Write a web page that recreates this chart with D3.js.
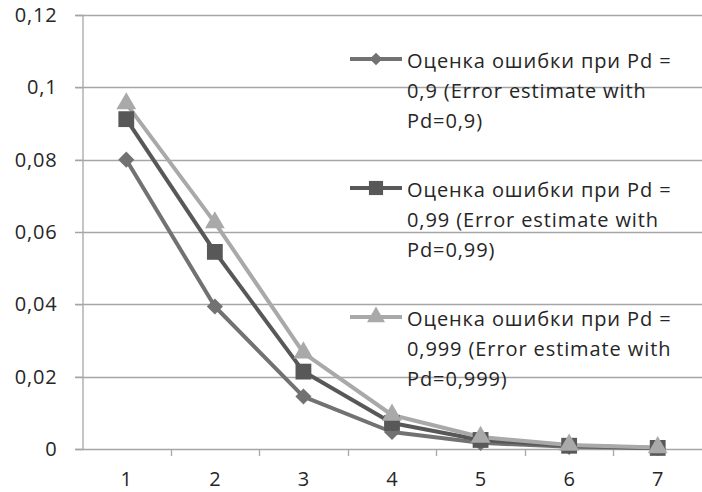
<!DOCTYPE html>
<html><head><meta charset="utf-8">
<script src="https://cdn.jsdelivr.net/npm/d3@7"></script>
<style>html,body{margin:0;padding:0;background:#fff;}svg{display:block;}</style>
</head><body>
<svg id="c" width="702" height="492"></svg>
<script>
const categories = ["1","2","3","4","5","6","7"];
const yTicks = [0, 0.02, 0.04, 0.06, 0.08, 0.1, 0.12];
const yTickLabels = ["0","0,02","0,04","0,06","0,08","0,1","0,12"];
const seriesNames = [
  ["Оценка ошибки при Pd =", "0,9 (Error estimate with", "Pd=0,9)"],
  ["Оценка ошибки при Pd =", "0,99 (Error estimate with", "Pd=0,99)"],
  ["Оценка ошибки при Pd =", "0,999 (Error estimate with", "Pd=0,999)"]
];
const valuesPd09 = [0.080, 0.0394, 0.0145, 0.0047, 0.0017, 0.0006, 0.0002];
const valuesPd099 = [0.0912, 0.0545, 0.0214, 0.0072, 0.0025, 0.0009, 0.0003];
const valuesPd0999 = [0.0955, 0.0626, 0.0266, 0.0094, 0.0033, 0.0011, 0.0004];

const series = [
  {values: valuesPd09, color: "#727272", marker: "diamond"},
  {values: valuesPd099, color: "#585858", marker: "square"},
  {values: valuesPd0999, color: "#a9a9a9", marker: "triangle"}
];

const svg = d3.select("#c");
const font = "'Open Sans', 'Noto Sans', sans-serif";
const mLeft = 82, mRight = 702, mTop = 15, mBottom = 449;
const x = d3.scaleBand().domain(categories).range([mLeft, mRight]);
const y = d3.scaleLinear().domain([0, 0.12]).range([mBottom, mTop]);

// gridlines
svg.append("g").selectAll("line").data(yTicks).join("line")
  .attr("x1", mLeft - 7).attr("x2", mRight)
  .attr("y1", d => Math.round(y(d)) + 0.5).attr("y2", d => Math.round(y(d)) + 0.5)
  .attr("stroke", "#a6a6a6").attr("stroke-width", 1.3);

// y axis
const yAxis = svg.append("g").attr("transform", `translate(${mLeft + 0.5},0)`)
  .call(d3.axisLeft(y).tickValues(yTicks).tickFormat((d, i) => yTickLabels[i]).tickSize(7).tickPadding(18));
yAxis.select(".domain").attr("stroke", "#a6a6a6").attr("stroke-width", 1.3);
yAxis.selectAll(".tick line").attr("stroke", "#a6a6a6");
yAxis.selectAll("text").attr("font-family", font).attr("font-size", 20)
  .attr("letter-spacing", 0.8).attr("dy", "0.32em").attr("fill", "#262626");

// x axis
const xAxis = svg.append("g").attr("transform", `translate(0,${Math.round(y(0)) + 0.5})`)
  .call(d3.axisBottom(x).tickSize(0).tickPadding(22));
xAxis.select(".domain").remove();
xAxis.selectAll("text").attr("font-family", font).attr("font-size", 20).attr("fill", "#262626");
// boundary ticks
const bounds = categories.slice(1).map(c => x(c));
svg.append("g").selectAll("line").data(bounds).join("line")
  .attr("x1", d => Math.round(d) + 0.5).attr("x2", d => Math.round(d) + 0.5)
  .attr("y1", Math.round(y(0))).attr("y2", Math.round(y(0)) + 7)
  .attr("stroke", "#a6a6a6").attr("stroke-width", 1.3);

const cx = c => x(c) + x.bandwidth() / 2;
const symbolFor = (m, big) => m === "diamond" ? d3.symbol(d3.symbolSquare, big ? 130 : 80)
  : m === "square" ? d3.symbol(d3.symbolSquare, big ? 250 : 200) : d3.symbol(d3.symbolTriangle, big ? 170 : 140);
const rot = m => m === "diamond" ? " rotate(45)" : "";

const line = d3.line().x((d, i) => cx(categories[i])).y(d => y(d));
series.forEach(s => {
  svg.append("path").datum(s.values).attr("d", line)
    .attr("fill", "none").attr("stroke", s.color).attr("stroke-width", 4).attr("stroke-linejoin", "round");
});
series.forEach(s => {
  svg.append("g").selectAll("path").data(s.values).join("path")
    .attr("transform", (d, i) => `translate(${cx(categories[i])},${y(d)})` + rot(s.marker))
    .attr("d", symbolFor(s.marker, true)()).attr("fill", s.color);
});

// legend
const legendY = [59, 188, 317];
series.forEach((s, k) => {
  const g = svg.append("g").attr("transform", `translate(0,${legendY[k]})`);
  g.append("line").attr("x1", 350).attr("x2", 402).attr("y1", 0).attr("y2", 0)
    .attr("stroke", s.color).attr("stroke-width", 4);
  g.append("path").attr("transform", "translate(376,0)" + rot(s.marker)).attr("d", symbolFor(s.marker, false)()).attr("fill", s.color);
  seriesNames[k].forEach((t, j) => {
    g.append("text").attr("x", 407).attr("y", 9 + j * 30).text(t)
      .attr("font-family", font).attr("font-size", 20).attr("letter-spacing", 0.9).attr("fill", "#262626");
  });
});
</script>
</body></html>
